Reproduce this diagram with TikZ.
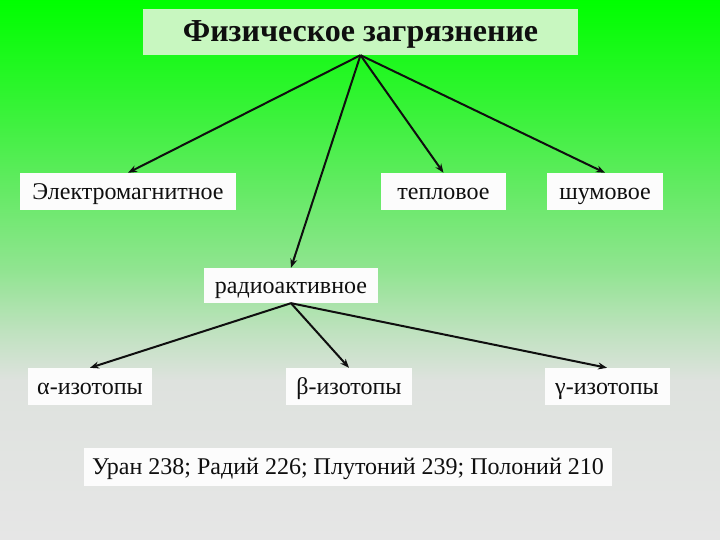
\documentclass[tikz,border=0pt]{standalone}
\usepackage{fontspec}
\setmainfont{Liberation Serif}
\usetikzlibrary{arrows.meta}
\definecolor{g0}{RGB}{0,255,0}
\definecolor{g1}{RGB}{45,245,45}
\definecolor{g2}{RGB}{95,235,95}
\definecolor{g3}{RGB}{145,228,145}
\definecolor{g4}{RGB}{190,226,190}
\definecolor{g5}{RGB}{222,226,222}
\definecolor{g6}{RGB}{230,230,230}
\definecolor{titlefill}{RGB}{200,247,192}
\definecolor{boxfill}{RGB}{252,252,252}
\definecolor{ink}{RGB}{15,15,15}
\tikzset{
  tbox/.style={fill=titlefill, inner sep=0pt, text=ink, font=\fontsize{32}{36}\selectfont\bfseries,
    text height=22.4pt, text depth=2.4pt},
  wbox/.style={fill=boxfill, inner sep=0pt, text=ink, font=\fontsize{24}{28}\selectfont,
    text height=18pt, text depth=2.4pt},
  arr/.style={draw=ink, line width=2pt, -{Stealth[length=9pt,width=7pt]}}
}
\begin{document}
\begin{tikzpicture}[x=1pt,y=-1pt]
\useasboundingbox (0,0) rectangle (720,540);
\shade[top color=g0, bottom color=g1] (0,0) rectangle (720,90.5);
\shade[top color=g1, bottom color=g2] (0,90) rectangle (720,180.5);
\shade[top color=g2, bottom color=g3] (0,180) rectangle (720,270.5);
\shade[top color=g3, bottom color=g4] (0,270) rectangle (720,330.5);
\shade[top color=g4, bottom color=g5] (0,330) rectangle (720,380.5);
\shade[top color=g5, bottom color=g6] (0,380) rectangle (720,540);

\node[tbox, minimum width=435pt, minimum height=46pt] (T) at (360.5,32) {Физическое загрязнение};
\node[wbox, minimum width=216pt, minimum height=37pt] (E) at (128,191.5) {Электромагнитное\hspace{5pt}};
\node[wbox, minimum width=125pt, minimum height=37pt] (H) at (443.5,191.5) {тепловое\hspace{8pt}};
\node[wbox, minimum width=116pt, minimum height=37pt] (N) at (605,191.5) {шумовое};
\node[wbox, minimum width=174pt, minimum height=35pt] (R) at (291,285.5) {радиоактивное\hspace{6pt}};
\node[wbox, minimum width=124pt, minimum height=37pt] (A) at (90,386.5) {α-изотопы};
\node[wbox, minimum width=126pt, minimum height=37pt] (B) at (349,386.5) {β-изотопы};
\node[wbox, minimum width=125pt, minimum height=37pt] (G) at (607,386.5) {γ-изотопы};
\node[wbox, minimum width=528pt, minimum height=38pt] (U) at (348,467) {Уран 238; Радий 226; Плутоний 239; Полоний 210};

\draw[arr] (T.south) -- (E.north);
\draw[arr] (T.south) -- (R.north);
\draw[arr] (T.south) -- (H.north);
\draw[arr] (T.south) -- (N.north);
\draw[arr] (R.south) -- (A.north);
\draw[arr] (R.south) -- (B.north);
\draw[arr] (R.south) -- (G.north);
\end{tikzpicture}
\end{document}
